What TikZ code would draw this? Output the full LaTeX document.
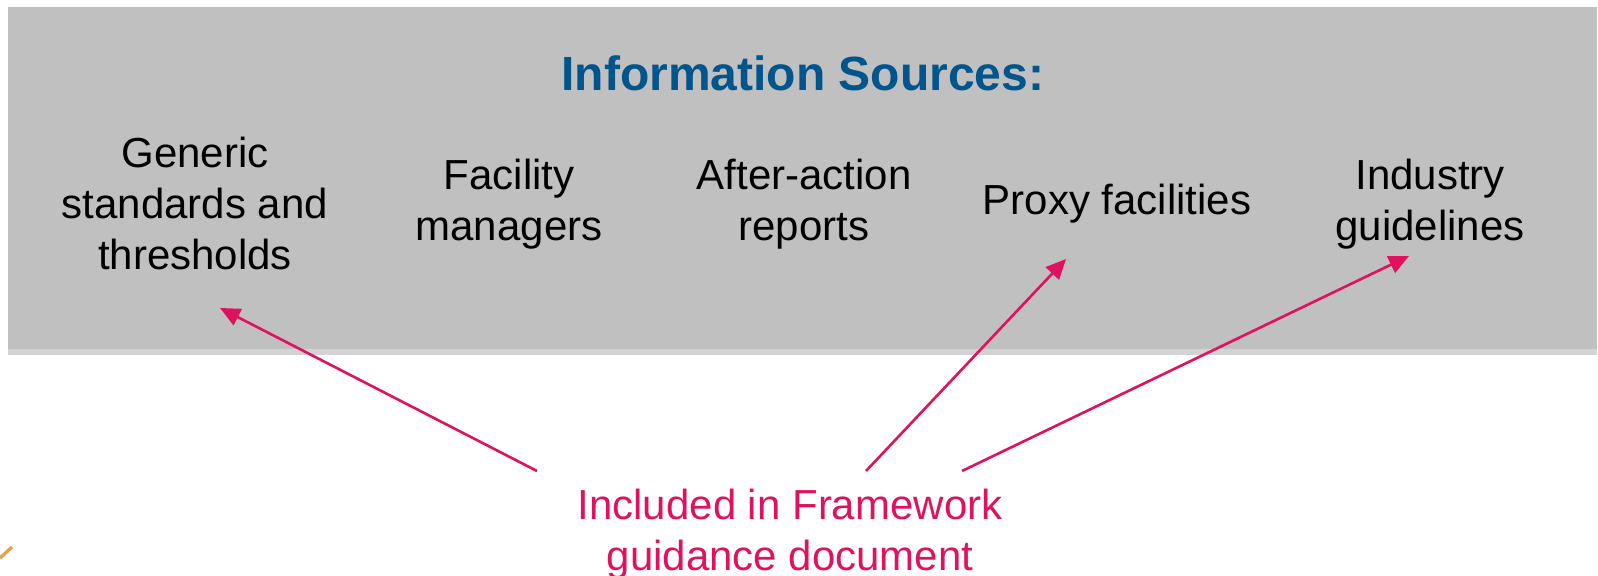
\documentclass[tikz,border=0pt]{standalone}
\usepackage{fontspec}
\setmainfont{Liberation Sans}
\usetikzlibrary{arrows.meta,shadows}
\definecolor{boxgray}{HTML}{C0C0C0}
\definecolor{titleblue}{HTML}{00558C}
\definecolor{notepink}{HTML}{E0115F}
\definecolor{markorange}{HTML}{E8A040}
\tikzset{
	source/.style={align=center, inner sep=0pt, font=\fontsize{21}{25.5}\selectfont},
	pointer/.style={draw=notepink, line width=1.3pt, -{Triangle[length=10pt,width=9pt]}}
}
\begin{document}
\begin{tikzpicture}[x=0.5pt,y=-0.5pt]
	\useasboundingbox (0,0) rectangle (1598,576);
	\fill[boxgray, drop shadow={opacity=0.35, shadow xshift=0pt, shadow yshift=-3pt}] (8,7) rectangle (1597,349);
	\node[inner sep=0pt, text=titleblue, font=\fontsize{24}{29}\selectfont\bfseries] (title) at (803,73) {Information Sources:};
	\node[source] (generic) at (195,203) {Generic\\standards and\\thresholds};
	\node[source] (facility) at (509,204) {Facility\\managers};
	\node[source] (afteraction) at (804,204) {After-action\\reports};
	\node[source] (proxy) at (1117,204) {Proxy facilities};
	\node[source] (industry) at (1430,204) {Industry\\guidelines};
	\node[source, text=notepink] (included) at (790,534) {Included in Framework\\guidance document};
	% arrow ends
	\coordinate (s1) at (537,471);
	\coordinate (s2) at (866,471);
	\coordinate (s3) at (962,471);
	\coordinate (t1) at (220,308);
	\coordinate (t2) at (1066,259);
	\coordinate (t3) at (1409,256);
	\draw[pointer] (s1) -- (t1);
	\draw[pointer] (s2) -- (t2);
	\draw[pointer] (s3) -- (t3);
	% cut-off mark in the corner
	\draw[markorange, line width=1.6pt] (0,558) -- (12,547);
\end{tikzpicture}
\end{document}
